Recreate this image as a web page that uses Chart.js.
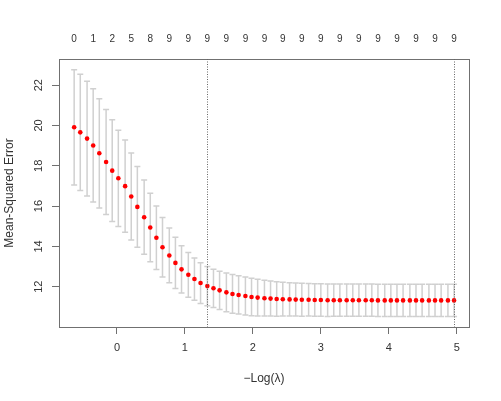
<!DOCTYPE html>
<html>
<head>
<meta charset="utf-8">
<script src="https://cdn.jsdelivr.net/npm/chart.js@4.4.0/dist/chart.umd.min.js"></script>
<style>
  html, body { margin: 0; padding: 0; background: #fff; }
</style>
</head>
<body>
<canvas id="myChart" width="501" height="401"></canvas>
<script>
// -log(lambda) for each fitted lambda
const logLambda = [
  -0.63, -0.54, -0.44, -0.35, -0.26, -0.16, -0.07, 0.02, 0.12, 0.21,
  0.30, 0.40, 0.49, 0.58, 0.67, 0.77, 0.86, 0.95, 1.05, 1.14,
  1.23, 1.33, 1.42, 1.51, 1.61, 1.70, 1.79, 1.89, 1.98, 2.07,
  2.17, 2.26, 2.35, 2.44, 2.54, 2.63, 2.72, 2.82, 2.91, 3.00,
  3.10, 3.19, 3.28, 3.38, 3.47, 3.56, 3.66, 3.75, 3.84, 3.94,
  4.03, 4.12, 4.21, 4.31, 4.40, 4.49, 4.59, 4.68, 4.77, 4.87, 4.96
];
// cross-validated mean squared error
const cvm = [
  19.91, 19.66, 19.35, 19.01, 18.62, 18.19, 17.76, 17.38, 16.99, 16.48,
  15.96, 15.45, 14.94, 14.43, 13.96, 13.55, 13.18, 12.86, 12.59, 12.38,
  12.18, 12.03, 11.92, 11.82, 11.72, 11.64, 11.59, 11.54, 11.49, 11.46,
  11.43, 11.41, 11.39, 11.38, 11.37, 11.36, 11.35, 11.35, 11.34, 11.34,
  11.33, 11.33, 11.33, 11.33, 11.33, 11.33, 11.33, 11.33, 11.32, 11.32,
  11.32, 11.32, 11.32, 11.32, 11.32, 11.32, 11.32, 11.32, 11.32, 11.32, 11.32
];
// standard error of the cv estimate
const cvsd = [
  2.86, 2.88, 2.85, 2.81, 2.71, 2.61, 2.52, 2.39, 2.29, 2.16,
  2.00, 1.84, 1.70, 1.58, 1.48, 1.36, 1.27, 1.17, 1.11, 1.05,
  1.01, 0.97, 0.95, 0.95, 0.96, 0.96, 0.95, 0.94, 0.93, 0.91,
  0.89, 0.87, 0.86, 0.84, 0.83, 0.82, 0.82, 0.81, 0.81, 0.81,
  0.81, 0.80, 0.80, 0.80, 0.80, 0.80, 0.80, 0.80, 0.80, 0.80,
  0.80, 0.80, 0.80, 0.80, 0.80, 0.80, 0.80, 0.80, 0.80, 0.80, 0.80
];
// number of nonzero coefficients, shown for every 3rd lambda
const nzero = [0, 1, 2, 5, 8, 9, 9, 9, 9, 9, 9, 9, 9, 9, 9, 9, 9, 9, 9, 9, 9];
const xTicks = [0, 1, 2, 3, 4, 5];
const yTicks = [12, 14, 16, 18, 20, 22];
const lambdaMarks = [1.33, 4.96]; // lambda.1se, lambda.min

const nzeroPos = logLambda.filter((v, i) => i % 3 === 0);

const axisCol = '#707070';
const textCol = '#333';
const font = { family: 'Liberation Sans', size: 11 };
const topFont = { family: 'Liberation Sans', size: 10 };
const titleFont = { family: 'Liberation Sans', size: 12 };

const errorBars = {
  id: 'errorBars',
  beforeDatasetsDraw(chart) {
    const { ctx, scales: { x, y } } = chart;
    ctx.save();
    ctx.strokeStyle = '#d0d0d0';
    ctx.lineWidth = 1.5;
    logLambda.forEach((v, i) => {
      const px = x.getPixelForValue(v);
      const top = y.getPixelForValue(cvm[i] + cvsd[i]);
      const bot = y.getPixelForValue(cvm[i] - cvsd[i]);
      ctx.beginPath();
      ctx.moveTo(px, top); ctx.lineTo(px, bot);
      ctx.moveTo(px - 3, top); ctx.lineTo(px + 3, top);
      ctx.moveTo(px - 3, bot); ctx.lineTo(px + 3, bot);
      ctx.stroke();
    });
    ctx.restore();
  },
  afterDatasetsDraw(chart) {
    const { ctx, chartArea, scales: { x } } = chart;
    ctx.save();
    ctx.strokeStyle = '#666';
    ctx.lineWidth = 1;
    ctx.setLineDash([1, 1.5]);
    lambdaMarks.forEach(v => {
      const px = Math.round(x.getPixelForValue(v)) + 0.5;
      ctx.beginPath();
      ctx.moveTo(px, chartArea.top);
      ctx.lineTo(px, chartArea.bottom);
      ctx.stroke();
    });
    ctx.restore();
  }
};

const ctx = document.getElementById('myChart').getContext('2d');

new Chart(ctx, {
  type: 'scatter',
  data: {
    datasets: [{
      data: logLambda.map((v, i) => ({ x: v, y: cvm[i] })),
      pointRadius: 2.3,
      pointBackgroundColor: '#ff0000',
      pointBorderWidth: 0,
      showLine: false
    }]
  },
  options: {
    responsive: false,
    animation: false,
    devicePixelRatio: 1,
    layout: { padding: 0 },
    scales: {
      x: {
        type: 'linear',
        position: 'bottom',
        min: -0.853,
        max: 5.18,
        afterBuildTicks: s => { s.ticks = xTicks.map(v => ({ value: v })); },
        afterFit: s => { s.height = 74; },
        grid: { drawOnChartArea: false, drawTicks: true, tickLength: 7, tickColor: axisCol, color: axisCol },
        border: { display: true, color: axisCol, width: 1 },
        ticks: { color: textCol, font: font, padding: 7, maxRotation: 0, autoSkip: false },
        title: { display: true, text: '−Log(λ)', color: textCol, font: titleFont, padding: { top: 0, bottom: 15 } }
      },
      xTop: {
        type: 'linear',
        position: 'top',
        min: -0.853,
        max: 5.18,
        afterBuildTicks: s => { s.ticks = nzeroPos.map(v => ({ value: v })); },
        afterFit: s => { s.height = 59; },
        grid: { display: false, drawTicks: false },
        border: { display: true, color: axisCol, width: 1 },
        ticks: { color: textCol, font: topFont, padding: 14, maxRotation: 0, autoSkip: false,
                 callback: (v, i) => String(nzero[i]) }
      },
      y: {
        type: 'linear',
        position: 'left',
        min: 10.0,
        max: 23.3,
        afterBuildTicks: s => { s.ticks = yTicks.map(v => ({ value: v })); },
        afterFit: s => { s.width = 59; },
        grid: { drawOnChartArea: false, drawTicks: true, tickLength: 7, tickColor: axisCol, color: axisCol },
        border: { display: true, color: axisCol, width: 1 },
        ticks: { color: textCol, font: font, padding: 7, minRotation: 90, maxRotation: 90,
                 crossAlign: 'center', autoSkip: false },
        title: { display: true, text: 'Mean-Squared Error', color: textCol, font: titleFont, padding: { top: 2, bottom: 0 } }
      },
      yRight: {
        type: 'linear',
        position: 'right',
        min: 10.0,
        max: 23.3,
        afterFit: s => { s.width = 32; },
        grid: { display: false, drawTicks: false },
        border: { display: true, color: axisCol, width: 1 },
        ticks: { display: false }
      }
    },
    plugins: {
      legend: { display: false },
      tooltip: { enabled: false }
    }
  },
  plugins: [errorBars]
});
</script>
</body>
</html>
